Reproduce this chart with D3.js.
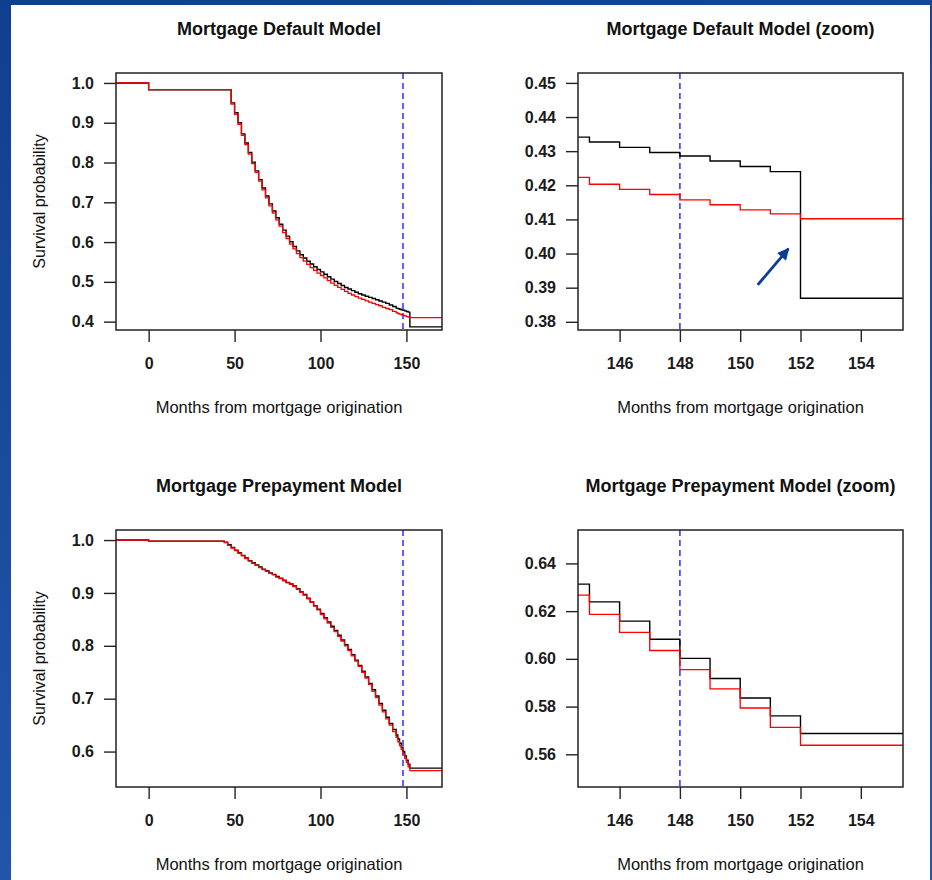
<!DOCTYPE html>
<html>
<head>
<meta charset="utf-8">
<script src="https://cdn.jsdelivr.net/npm/d3@7"></script>
<style>
  body { margin: 0; padding: 0; background: #fff; }
  svg { display: block; }
  text { font-family: "Liberation Sans", Arial, Helvetica, sans-serif; fill: #111; }
  .tick line { stroke: #222; stroke-width: 1.4; }
  .tick text { font-size: 16px; font-weight: bold; fill: #1a1a1a; }
</style>
</head>
<body>
<script>

// Width and height of the page
var width = 932;
var height = 880;

// ---- data ----

// full period, default model: months where the survival curve steps
var defMonths = [-20, 0].concat(d3.range(48, 144, 2));
var defBlack = [1.0, 0.983,
  0.950, 0.925, 0.900, 0.872, 0.849, 0.825, 0.801, 0.779, 0.757, 0.736,
  0.716, 0.696, 0.678, 0.661, 0.645, 0.630, 0.615, 0.601, 0.589, 0.578,
  0.568, 0.560, 0.552, 0.545, 0.538, 0.531, 0.525, 0.519, 0.513, 0.507,
  0.501, 0.496, 0.491, 0.486, 0.482, 0.478, 0.474, 0.470, 0.467, 0.464,
  0.461, 0.458, 0.455, 0.452, 0.449, 0.446, 0.442, 0.438];
var defRed = [1.0, 0.983,
  0.947, 0.921, 0.896, 0.868, 0.845, 0.821, 0.797, 0.775, 0.753, 0.731,
  0.711, 0.691, 0.673, 0.656, 0.640, 0.624, 0.609, 0.595, 0.583, 0.571,
  0.561, 0.552, 0.544, 0.536, 0.529, 0.522, 0.516, 0.510, 0.503, 0.497,
  0.491, 0.486, 0.481, 0.476, 0.471, 0.467, 0.463, 0.459, 0.456, 0.452,
  0.449, 0.446, 0.443, 0.440, 0.436, 0.433, 0.430, 0.426];

// full period, prepayment model
var prepMonths = [-20, 0].concat(d3.range(44, 144, 2));
var prepBlack = [1.0, 0.998,
  0.996, 0.991, 0.986, 0.981, 0.976, 0.971, 0.966, 0.961, 0.957, 0.953,
  0.949, 0.945, 0.942, 0.938, 0.935, 0.931, 0.928, 0.924, 0.920, 0.917,
  0.913, 0.908, 0.902, 0.897, 0.890, 0.883, 0.876, 0.869, 0.861, 0.853,
  0.845, 0.837, 0.829, 0.820, 0.811, 0.802, 0.793, 0.783, 0.773, 0.763,
  0.752, 0.741, 0.729, 0.717, 0.705, 0.691, 0.678, 0.665, 0.653, 0.642];
var prepRed = [1.0, 0.998,
  0.995, 0.990, 0.985, 0.980, 0.975, 0.970, 0.965, 0.960, 0.956, 0.952,
  0.948, 0.944, 0.941, 0.937, 0.934, 0.930, 0.927, 0.923, 0.919, 0.916,
  0.912, 0.907, 0.901, 0.896, 0.889, 0.882, 0.875, 0.868, 0.859, 0.851,
  0.843, 0.835, 0.827, 0.818, 0.809, 0.800, 0.791, 0.781, 0.771, 0.761,
  0.750, 0.739, 0.727, 0.714, 0.702, 0.688, 0.675, 0.662, 0.650, 0.638];

// zoomed months (monthly steps)
var zoomMonths = [144, 145, 146, 147, 148, 149, 150, 151, 152];
var defZoomBlack = [0.4341, 0.4327, 0.4311, 0.4296, 0.4286, 0.4271, 0.4255, 0.4240, 0.3869];
var defZoomRed   = [0.4223, 0.4203, 0.4188, 0.4173, 0.4157, 0.4143, 0.4128, 0.4116, 0.4102];
var prepZoomBlack = [0.6313, 0.6239, 0.6158, 0.6082, 0.6002, 0.5918, 0.5836, 0.5761, 0.5687];
var prepZoomRed   = [0.6267, 0.6186, 0.6111, 0.6035, 0.5955, 0.5874, 0.5794, 0.5713, 0.5638];

// vertical reference month
var cutMonth = 148;

// arrow in default zoom panel: [month, survival] from -> to
var arrowFrom = [150.58, 0.3908];
var arrowTo = [151.6, 0.4014];

// tick values
var fullXTicks = [0, 50, 100, 150];
var zoomXTicks = [146, 148, 150, 152, 154];
var defYTicks = [0.4, 0.5, 0.6, 0.7, 0.8, 0.9, 1.0];
var defZoomYTicks = [0.38, 0.39, 0.40, 0.41, 0.42, 0.43, 0.44, 0.45];
var prepYTicks = [0.6, 0.7, 0.8, 0.9, 1.0];
var prepZoomYTicks = [0.56, 0.58, 0.60, 0.62, 0.64];

var titles = ["Mortgage Default Model", "Mortgage Default Model (zoom)",
              "Mortgage Prepayment Model", "Mortgage Prepayment Model (zoom)"];
var xTitle = "Months from mortgage origination";
var yTitle = "Survival probability";

// ---- page ----
var svg = d3.select("body")
  .append("svg")
  .attr("width", width)
  .attr("height", height);

var defs = svg.append("defs");
var grad = defs.append("linearGradient")
  .attr("id", "bg").attr("x1", 0).attr("y1", 0).attr("x2", 0.3).attr("y2", 1);
grad.append("stop").attr("offset", "0%").attr("stop-color", "#0f3f8f");
grad.append("stop").attr("offset", "50%").attr("stop-color", "#1a4c9e");
grad.append("stop").attr("offset", "100%").attr("stop-color", "#2357aa");

svg.append("rect").attr("width", width).attr("height", height).attr("fill", "url(#bg)");
svg.append("rect")
  .attr("x", 11).attr("y", 5)
  .attr("width", 919).attr("height", 875)
  .attr("fill", "#fff");

defs.append("marker")
  .attr("id", "arrowhead")
  .attr("viewBox", "0 0 10 10")
  .attr("refX", 9).attr("refY", 5)
  .attr("markerWidth", 4.6).attr("markerHeight", 4.2)
  .attr("markerUnits", "strokeWidth")
  .attr("orient", "auto")
  .append("path")
  .attr("d", "M0,0 L10,5 L0,10 z")
  .attr("fill", "#0b3d91");

// helper to build step series
function zipSeries(months, values) {
  return months.map(function(m, i) { return [m, values[i]]; });
}

// panel layouts
var cols = [{ left: 116, right: 442 }, { left: 578, right: 903 }];
var rows = [{ top: 73, bottom: 330 }, { top: 530, bottom: 787 }];

var panels = [
  { col: 0, row: 0, title: titles[0], xDomain: [-19, 170.7], yDomain: [0.379, 1.025],
    xTicks: fullXTicks, yTicks: defYTicks, yFmt: ".1f", yLabel: true,
    black: zipSeries(defMonths.concat(zoomMonths), defBlack.concat(defZoomBlack)),
    red: zipSeries(defMonths.concat(zoomMonths), defRed.concat(defZoomRed)) },
  { col: 1, row: 0, title: titles[1], xDomain: [144.62, 155.4], yDomain: [0.3776, 0.4529],
    xTicks: zoomXTicks, yTicks: defZoomYTicks, yFmt: ".2f", yLabel: false, arrow: true,
    black: zipSeries(zoomMonths, defZoomBlack),
    red: zipSeries(zoomMonths, defZoomRed) },
  { col: 0, row: 1, title: titles[2], xDomain: [-19, 170.7], yDomain: [0.533, 1.019],
    xTicks: fullXTicks, yTicks: prepYTicks, yFmt: ".1f", yLabel: true,
    black: zipSeries(prepMonths.concat(zoomMonths), prepBlack.concat(prepZoomBlack)),
    red: zipSeries(prepMonths.concat(zoomMonths), prepRed.concat(prepZoomRed)) },
  { col: 1, row: 1, title: titles[3], xDomain: [144.62, 155.4], yDomain: [0.5463, 0.654],
    xTicks: zoomXTicks, yTicks: prepZoomYTicks, yFmt: ".2f", yLabel: false,
    black: zipSeries(zoomMonths, prepZoomBlack),
    red: zipSeries(zoomMonths, prepZoomRed) }
];

panels.forEach(function(p, i) {
  var c = cols[p.col], r = rows[p.row];
  var w = c.right - c.left, h = r.bottom - r.top;

  var x = d3.scaleLinear().domain(p.xDomain).range([0, w]);
  var y = d3.scaleLinear().domain(p.yDomain).range([h, 0]);

  var g = svg.append("g").attr("transform", "translate(" + c.left + "," + r.top + ")");

  defs.append("clipPath").attr("id", "clip" + i)
    .append("rect").attr("width", w).attr("height", h);

  // title
  g.append("text")
    .attr("x", w / 2).attr("y", -38)
    .attr("text-anchor", "middle")
    .style("font-size", "18px")
    .style("font-weight", "bold")
    .text(p.title);

  // axes
  var xAxis = g.append("g")
    .attr("transform", "translate(0," + h + ")")
    .call(d3.axisBottom(x).tickValues(p.xTicks).tickSize(12).tickPadding(16).tickFormat(d3.format("d")));
  xAxis.select(".domain").remove();

  var yAxis = g.append("g")
    .call(d3.axisLeft(y).tickValues(p.yTicks).tickSize(12).tickPadding(10).tickFormat(d3.format(p.yFmt)));
  yAxis.select(".domain").remove();

  // axis titles
  g.append("text")
    .attr("x", w / 2).attr("y", h + 83)
    .attr("text-anchor", "middle")
    .style("font-size", "16.5px")
    .text(xTitle);

  if (p.yLabel) {
    g.append("text")
      .attr("transform", "translate(" + (-77) + "," + (h / 2) + ") rotate(-90)")
      .attr("text-anchor", "middle")
      .attr("dy", "0.35em")
      .style("font-size", "16px")
      .text(yTitle);
  }

  var plot = g.append("g").attr("clip-path", "url(#clip" + i + ")");

  // dashed reference line
  plot.append("line")
    .attr("x1", x(cutMonth)).attr("x2", x(cutMonth))
    .attr("y1", 0).attr("y2", h)
    .attr("stroke", "#3a3aff")
    .attr("stroke-width", 1.6)
    .attr("stroke-dasharray", "6,4");

  var line = d3.line()
    .x(function(d) { return x(d[0]); })
    .y(function(d) { return y(d[1]); })
    .curve(d3.curveStepAfter);

  // extend last step to the right edge of the plot
  function extend(series) {
    var last = series[series.length - 1];
    return series.concat([[x.domain()[1], last[1]]]);
  }

  plot.append("path")
    .datum(extend(p.black))
    .attr("d", line)
    .attr("fill", "none")
    .attr("stroke", "#000")
    .attr("stroke-width", 1.4);

  plot.append("path")
    .datum(extend(p.red))
    .attr("d", line)
    .attr("fill", "none")
    .attr("stroke", "#ff0000")
    .attr("stroke-width", 1.3);

  if (p.arrow) {
    g.append("line")
      .attr("x1", x(arrowFrom[0])).attr("y1", y(arrowFrom[1]))
      .attr("x2", x(arrowTo[0])).attr("y2", y(arrowTo[1]))
      .attr("stroke", "#0b3d91")
      .attr("stroke-width", 2.8)
      .attr("marker-end", "url(#arrowhead)");
  }

  // box
  g.append("rect")
    .attr("width", w).attr("height", h)
    .attr("fill", "none")
    .attr("stroke", "#222")
    .attr("stroke-width", 1.5);
});

</script>
</body>
</html>
